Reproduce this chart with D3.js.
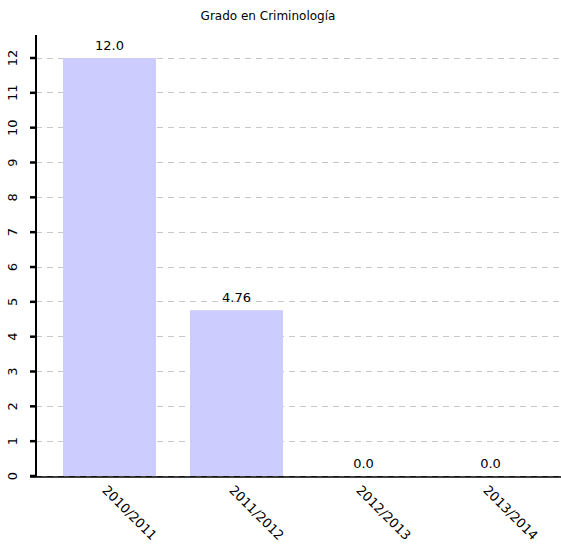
<!DOCTYPE html>
<html><head><meta charset="utf-8">
<script src="https://cdn.jsdelivr.net/npm/d3@7"></script>
<style>body{margin:0;background:#fff;} text{font-family:"DejaVu Sans",sans-serif;}</style>
</head><body>
<svg id="c" width="561" height="551"></svg>
<script>
const categories = ["2010/2011","2011/2012","2012/2013","2013/2014"];
const values = [12.0, 4.76, 0.0, 0.0];
const valueLabels = ["12.0","4.76","0.0","0.0"];
const yTicks = [0,1,2,3,4,5,6,7,8,9,10,11,12];
const title = "Grado en Criminología";

const svg = d3.select("#c");
const x = d3.scaleBand().domain(categories).range([36,564]).paddingInner(0.2677).paddingOuter(0.2126);
const y = d3.scaleLinear().domain([0,12]).range([476,58]);

svg.append("text").attr("x",268).attr("y",20).attr("text-anchor","middle")
  .attr("font-size",12).attr("fill","#000").text(title);

// gridlines
svg.append("g").selectAll("line").data(yTicks).join("line")
  .attr("x1",36).attr("x2",561).attr("y1",d=>y(d)).attr("y2",d=>y(d))
  .attr("stroke",d=>d===0?"#555":"#c8c8c8").attr("stroke-width",1).attr("stroke-dasharray","6,5")
  .attr("shape-rendering","crispEdges");

// bars
svg.append("g").selectAll("rect").data(values).join("rect")
  .attr("x",(d,i)=>x(categories[i])).attr("width",x.bandwidth())
  .attr("y",d=>y(d)).attr("height",d=>Math.max(0,y(0)-y(d)))
  .attr("fill","#ccccff");

// value labels
svg.append("g").selectAll("text").data(values).join("text")
  .attr("x",(d,i)=>x(categories[i])+x.bandwidth()/2).attr("y",d=>y(d)-8)
  .attr("text-anchor","middle").attr("font-size",13).attr("fill","#000")
  .text((d,i)=>valueLabels[i]);

// x axis
const xg = svg.append("g").attr("transform","translate(0,477)");
xg.append("line").attr("x1",30).attr("x2",561).attr("y1",0).attr("y2",0).attr("stroke","#000").attr("stroke-width",1.5);
xg.selectAll("text").data(categories).join("text")
  .attr("transform",d=>`translate(${x(d)+x.bandwidth()/2-8},${14}) rotate(45)`)
  .attr("font-size",13).attr("fill","#000").text(d=>d);

// y axis
const yg = svg.append("g");
yg.append("line").attr("x1",36).attr("x2",36).attr("y1",35).attr("y2",477).attr("stroke","#000").attr("stroke-width",2);
yg.selectAll("line.t").data(yTicks).join("line").attr("class","t")
  .attr("x1",30).attr("x2",36).attr("y1",d=>y(d)).attr("y2",d=>y(d)).attr("stroke","#000").attr("stroke-width",2.5);
yg.selectAll("text").data(yTicks).join("text")
  .attr("transform",d=>`translate(17,${y(d)}) rotate(-90)`)
  .attr("text-anchor","middle").attr("font-size",13).attr("fill","#000").text(d=>d);
</script>
</body></html>
